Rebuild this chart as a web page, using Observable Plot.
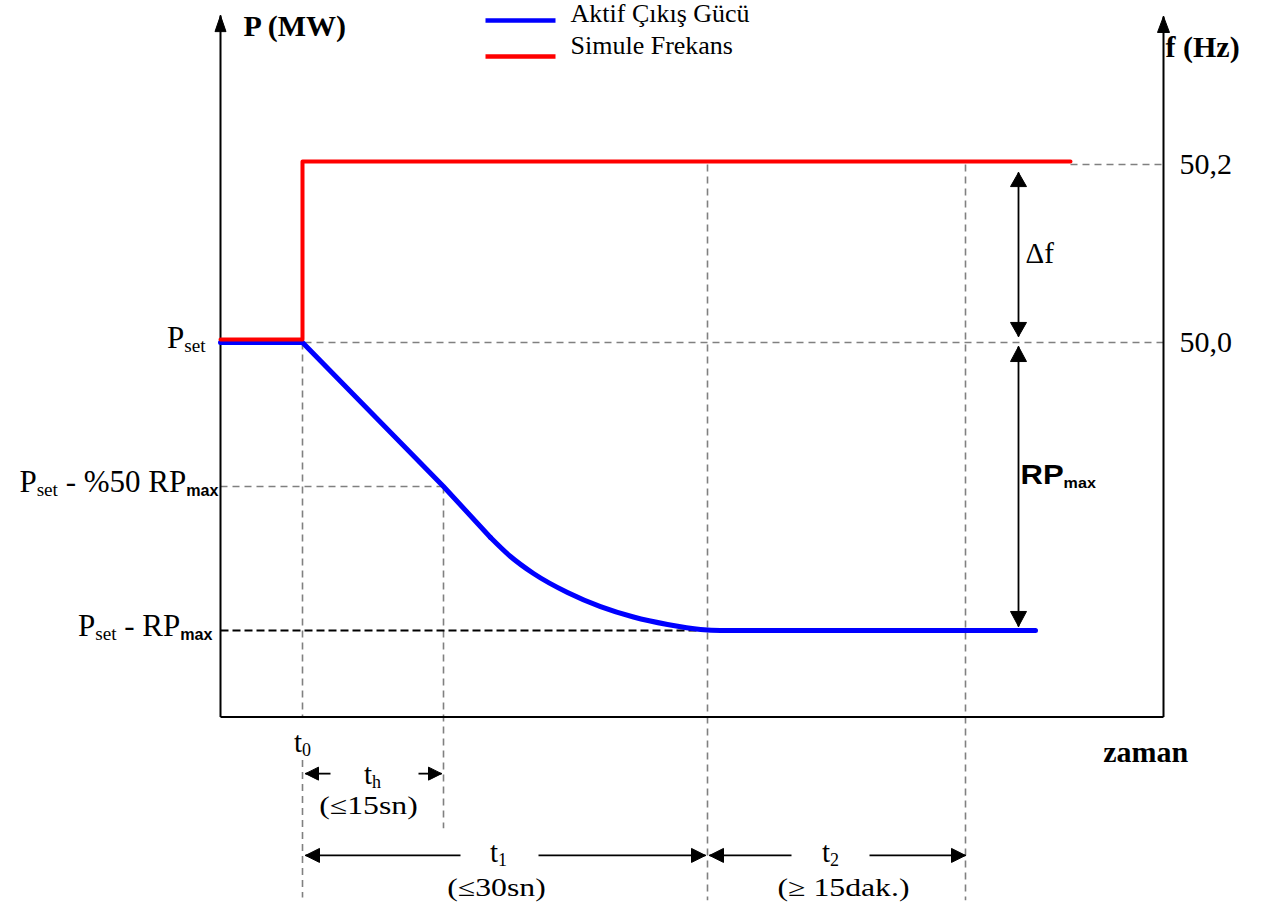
<!DOCTYPE html>
<html>
<head>
<meta charset="utf-8">
<script src="https://cdn.jsdelivr.net/npm/d3@7"></script>
<script src="https://cdn.jsdelivr.net/npm/@observablehq/plot@0.6"></script>
<style>
  html, body { margin: 0; padding: 0; background: #fff; }
  svg { display: block; }
</style>
</head>
<body>
<div id="chart"></div>
<script>
// ================= DATA =================
// Schematic time units (t0 = 0) and power in % of RPmax above (Pset - RPmax)
const markerNames = ["t_{0}", "t_{h}", "t_{1}", "t_{2}"];
const markerTimes = [0, 141, 405, 663];

// Active output power (blue): linear ramp, then smooth decay to Pset - RPmax
const rampT  = [-82, 0, 141, 188];
const rampP  = [100, 100, 50, 32.3];
const decayT = [188, 208, 231, 265, 298, 331, 365, 398, 418, 733];
const decayP = [32.3, 25.7, 19.8, 13.2, 8.3, 4.7, 2.1, 0.35, 0, 0];

// Simulated frequency (red) in Hz
const freqT  = [-82, 0, 0, 768];
const freqHz = [50.0, 50.0, 50.2, 50.2];

// Power levels and their labels (left side)
const powerLevels = [100, 50, 0];
const powerLabels = ["P_{set}", "P_{set} - %50 RP_[max]", "P_{set} - RP_[max]"];

// Frequency ticks (right side)
const freqTicks = [50.2, 50.0];
const freqTickLabels = ["50,2", "50,0"];

// Legend
const seriesNames  = ["Aktif Çıkış Gücü", "Simule Frekans"];
const seriesColors = ["#0000ff", "#ff0000"];

// Interval descriptions
const intervalLabels = ["(≤15sn)", "(≤30sn)", "(≥ 15dak.)"];
const axisTitles = ["P (MW)", "f (Hz)", "zaman"];

// ================= LAYOUT =================
const W = 1273, H = 908;
const xDomain = [-82, 861], xRange = [220, 1163];
const yDomain = [0, 100],   yRange = [630, 342];
const kX = (xRange[1] - xRange[0]) / (xDomain[1] - xDomain[0]);
const kY = (yRange[0] - yRange[1]) / (yDomain[1] - yDomain[0]);
const fy = f => 100 + (f - 50) / 0.2 * 61.8;   // frequency -> shared vertical units

const xLeft = xDomain[0], xRight = xDomain[1];
const yBottom = -30, yTop = 213.5;
const [tT0, tTh, tT1, tT2] = markerTimes;
const f2 = fy(freqTicks[0]);

const ramp  = rampT.map((t, i) => ({t, p: rampP[i]}));
const decay = decayT.map((t, i) => ({t, p: decayP[i]}));
const freq  = freqT.map((t, i) => ({t, y: fy(freqHz[i])}));

const grayGuides = [
  {x1: xLeft, y1: powerLevels[0], x2: xRight, y2: powerLevels[0]},
  {x1: freqT[3], y1: f2, x2: xRight, y2: f2},
  {x1: xLeft, y1: powerLevels[1], x2: tTh, y2: powerLevels[1]},
  {x1: tT0, y1: powerLevels[0], x2: tT0, y2: yBottom},
  {x1: tT0, y1: -45, x2: tT0, y2: -92.7},
  {x1: tTh, y1: powerLevels[1], x2: tTh, y2: -68.7},
  {x1: tT1, y1: f2, x2: tT1, y2: -93.7},
  {x1: tT2, y1: f2, x2: tT2, y2: -93.7}
];
const blackGuides = [{x1: xLeft, y1: powerLevels[2], x2: tT1, y2: powerLevels[2]}];

const axisLines = [
  {x1: xLeft, y1: yBottom, x2: xLeft, y2: yTop},
  {x1: xLeft, y1: yBottom, x2: xRight, y2: yBottom},
  {x1: xRight, y1: yBottom, x2: xRight, y2: yTop - 0.3}
];

// dimension arrows
const dims = [
  {dir: "v", x: 716, a: 159.0, b: 102.1, L: 14, w: 8},
  {dir: "v", x: 716, a: 98.6,  b: 1.4,   L: 15, w: 8},
  {dir: "h", y: -49.7, a: 3,   b: 139, gap: [28, 116],  L: 13, w: 6.5},
  {dir: "h", y: -78.1, a: 3,   b: 403, gap: [158, 236], L: 14, w: 7},
  {dir: "h", y: -78.1, a: 407, b: 663, gap: [489, 567], L: 14, w: 7}
];

function head(id, x, y, dir, L, w) {
  const ux = {up: 0, down: 0, left: -1, right: 1}[dir];
  const uy = {up: 1, down: -1, left: 0, right: 0}[dir];
  const bx = x - ux * L / kX, by = y - uy * L / kY;
  const px = -uy * w / kX, py = ux * w / kY;
  return [{id, x, y}, {id, x: bx + px, y: by + py}, {id, x: bx - px, y: by - py}, {id, x, y}];
}

const shafts = [];
const heads = [];
dims.forEach((d, i) => {
  if (d.dir === "v") {
    shafts.push({x1: d.x, y1: d.a, x2: d.x, y2: d.b});
    heads.push(...head("d" + i + "a", d.x, d.a, "up", d.L, d.w));
    heads.push(...head("d" + i + "b", d.x, d.b, "down", d.L, d.w));
  } else {
    shafts.push({x1: d.a, y1: d.y, x2: d.gap[0], y2: d.y});
    shafts.push({x1: d.gap[1], y1: d.y, x2: d.b, y2: d.y});
    heads.push(...head("d" + i + "a", d.a, d.y, "left", d.L, d.w));
    heads.push(...head("d" + i + "b", d.b, d.y, "right", d.L, d.w));
  }
});
heads.push(...head("axL", xLeft, yTop, "up", 16, 5.5));
heads.push(...head("axR", xRight, yTop - 0.3, "up", 16, 6));

const leftLabels = powerLevels.map((p, i) => ({p, label: powerLabels[i], xEnd: [-97, -84, -90][i]}));
const rightLabels = freqTicks.map((f, i) => ({y: fy(f), label: freqTickLabels[i]}));
const legend = seriesNames.map((name, i) => ({name, color: seriesColors[i], lineY: [211.8, 199.3][i], textY: [214.2, 203.2][i]}));
const titles = [
  {x: -59, y: 209.8, label: axisTitles[0]},
  {x: 863, y: 202.4, label: axisTitles[1]},
  {x: 800.7, y: -42.3, label: axisTitles[2]}
];
const tLabels = markerNames.map((n, i) => ({label: n, x: [tT0, 70, 196, 528][i], y: [-38.9, -50, -77.1, -77.1][i]}));
const intLabels = intervalLabels.map((n, i) => ({label: n, x: [66, 194, 541][i], y: [-60.8, -89.5, -89.5][i]}));

const serif = "'Liberation Serif', 'Times New Roman', Times, serif";
const sans = "'Liberation Sans', Arial, Helvetica, sans-serif";
const T = {fill: "#000", fontFamily: serif};

const svg = Plot.plot({
  width: W, height: H,
  marginTop: 0, marginRight: 0, marginBottom: 0, marginLeft: 0,
  style: {fontFamily: serif, background: "#fff", color: "#000"},
  x: {type: "linear", domain: xDomain, range: xRange, axis: null},
  y: {type: "linear", domain: yDomain, range: yRange, axis: null},
  marks: [
    Plot.link(grayGuides, {x1: "x1", y1: "y1", x2: "x2", y2: "y2", stroke: "#808080", strokeWidth: 1.6, strokeDasharray: "7,5"}),
    Plot.link(blackGuides, {x1: "x1", y1: "y1", x2: "x2", y2: "y2", stroke: "#000", strokeWidth: 2, strokeDasharray: "8,4"}),
    Plot.link(axisLines, {x1: "x1", y1: "y1", x2: "x2", y2: "y2", stroke: "#000", strokeWidth: 2}),
    Plot.line(ramp, {x: "t", y: "p", stroke: seriesColors[0], strokeWidth: 5, strokeLinejoin: "round"}),
    Plot.line(decay, {x: "t", y: "p", curve: "monotone-x", stroke: seriesColors[0], strokeWidth: 5}),
    Plot.line(freq, {x: "t", y: "y", stroke: seriesColors[1], strokeWidth: 4, dy: -3}),
    Plot.link(shafts, {x1: "x1", y1: "y1", x2: "x2", y2: "y2", stroke: "#000", strokeWidth: 1.8}),
    Plot.line(heads, {x: "x", y: "y", z: "id", fill: "#000", stroke: "#000", strokeWidth: 1}),
    // legend
    Plot.link(legend, {x1: 183, x2: 253, y1: "lineY", y2: "lineY", stroke: "color", strokeWidth: 4.5}),
    Plot.text(legend, {...T, x: 268, y: "textY", text: "name", textAnchor: "start", fontSize: 26}),
    // labels
    Plot.text(leftLabels, {...T, x: "xEnd", y: "p", text: "label", textAnchor: "end", fontSize: 31, dy: -4}),
    Plot.text(rightLabels, {...T, x: 877, y: "y", text: "label", textAnchor: "start", fontSize: 30}),
    Plot.text(titles, {...T, x: "x", y: "y", text: "label", textAnchor: "start", fontSize: 30, fontWeight: "bold"}),
    Plot.text(["Δf"], {...T, x: 723, y: 130.7, text: d => d, textAnchor: "start", fontSize: 29}),
    Plot.text(["RP_[max]"], {...T, x: 718, y: 54, text: d => d, textAnchor: "start", fontSize: 27, fontWeight: "bold", fontFamily: sans}),
    Plot.text(tLabels, {...T, x: "x", y: "y", text: "label", textAnchor: "middle", fontSize: 29}),
    Plot.text(intLabels, {...T, x: "x", y: "y", text: "label", textAnchor: "middle", fontSize: 25})
  ]
});

document.getElementById("chart").appendChild(svg);

// Horizontal stretch of some labels (as in the reference drawing)
const stretch = new Map([...intervalLabels.map(s => [s, 1.27]), ["RP_[max]", 1.15]]);
// Rich text: _{...} serif subscript, _[...] bold sans subscript
d3.select(svg).selectAll("text").each(function () {
  const s = this.textContent;
  const k = stretch.get(s);
  if (k) {
    const tr = this.getAttribute("transform");
    if (tr) this.setAttribute("transform", tr + ` scale(${k},1)`);
  }
  if (!/_[\{\[]/.test(s)) return;
  const fs = parseFloat(getComputedStyle(this).fontSize) || 30;
  const shift = Math.round(fs * 0.13);
  const parts = [...s.matchAll(/_\{([^}]*)\}|_\[([^\]]*)\]|([^_]+)/g)];
  this.textContent = "";
  let down = false;
  for (const m of parts) {
    const t = d3.select(this).append("tspan");
    if (m[1] != null || m[2] != null) {
      t.text(m[1] != null ? m[1] : m[2]).attr("dy", down ? 0 : shift);
      if (m[1] != null) t.attr("font-size", (fs * 0.62).toFixed(1));
      else t.attr("font-size", (fs * 0.52).toFixed(1)).attr("font-family", sans).attr("font-weight", "bold");
      down = true;
    } else {
      t.text(m[3]);
      if (down) t.attr("dy", -shift);
      down = false;
    }
  }
});
</script>
</body>
</html>
